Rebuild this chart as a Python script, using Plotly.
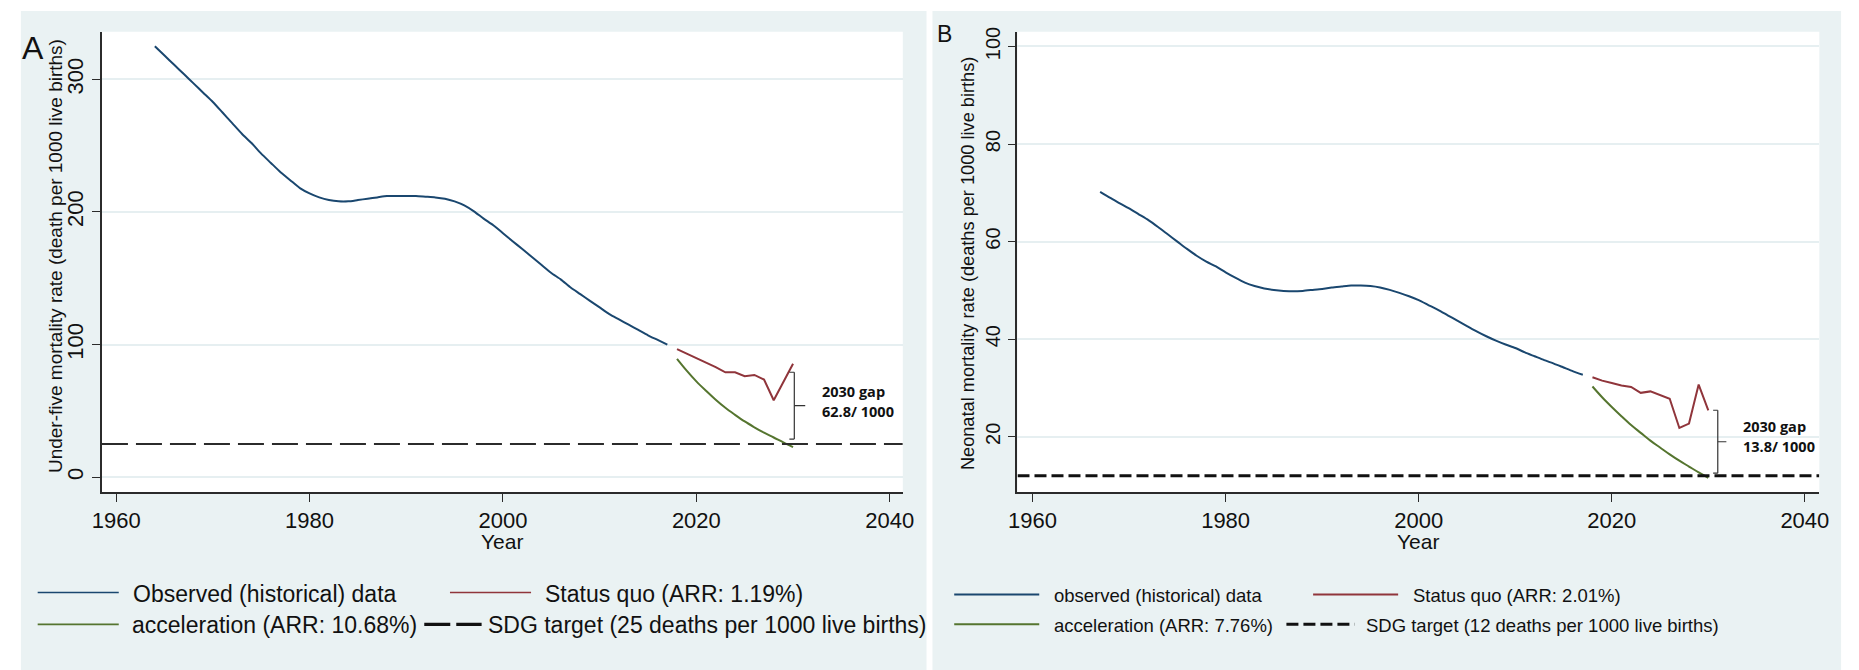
import plotly.graph_objects as go

W, H = 1859, 670

# ---------------- Panel A: under-five mortality ----------------
years_obs_a = list(range(1964, 2018))
u5mr_observed = [325, 318, 311, 304, 297, 290, 283, 275, 267, 259,
                 252, 244, 237, 230, 224, 218, 214, 211, 209, 208,
                 208, 209, 210, 211, 212, 212, 212, 212, 211.5, 211,
                 210, 208, 205, 200.5, 195, 190, 184, 178, 172, 166,
                 160, 154, 149, 143, 138, 133, 128, 123, 119, 115,
                 111, 107, 103.5, 100]
years_proj = list(range(2018, 2031))
u5mr_status_quo = [96.6, 93.2, 89.7, 86.6, 83.0, 79.1, 79.1, 76.1, 77.1, 73.6, 58.0, 71.7, 85.5]
u5mr_acceleration = [89.2, 80.3, 72.2, 65.1, 58.4, 52.3, 47.0, 42.0, 37.6, 33.5, 29.9, 26.2, 22.7]
u5mr_target = 25

# ---------------- Panel B: neonatal mortality ----------------
years_obs_b = list(range(1967, 2018))
nmr_observed = [70.2, 69.0, 67.9, 66.8, 65.6, 64.4, 63.0, 61.5, 60.0, 58.5,
                57.1, 55.9, 54.9, 53.7, 52.6, 51.6, 50.9, 50.4, 50.1, 49.9,
                49.8, 49.9, 50.1, 50.3, 50.6, 50.8, 51.0, 51.0, 50.9, 50.6,
                50.1, 49.5, 48.8, 48.0, 47.0, 46.0, 44.9, 43.8, 42.7, 41.6,
                40.6, 39.7, 38.9, 38.2, 37.3, 36.5, 35.7, 35.0, 34.2, 33.4,
                32.7]
nmr_status_quo = [32.2, 31.5, 31.0, 30.5, 30.2, 29.0, 29.3, 28.5, 27.8, 21.8, 22.7, 30.7, 25.4]
nmr_acceleration = [30.3, 28.1, 26.1, 24.2, 22.4, 20.8, 19.2, 17.8, 16.4, 15.1, 13.9, 12.7, 11.6]
nmr_target = 12

# axis settings
x_range_a = [1958.53, 2041.35]
x_range_b = [1958.44, 2041.5]
y_range_a = [-11.46, 335.9]
y_range_b = [8.61, 103.0]
x_ticks = [1960, 1980, 2000, 2020, 2040]

BLUE = "#1a476f"
RED = "#90353b"
GREEN = "#55752f"
PANEL_BG = "#eaf2f3"
GRID = "#e6eff1"
AXIS = "#2b2b2b"
FONT = "Liberation Sans, Arial, sans-serif"
GAP_FONT = "Open Sans, Liberation Sans, sans-serif"


def px_x(p):
    return p / W


def px_y(p):
    return 1 - p / H


fig = go.Figure()

# Panel A traces
fig.add_trace(go.Scatter(x=years_obs_a, y=u5mr_observed, mode="lines", name="Observed (historical) data",
                         line=dict(color=BLUE, width=2, shape="spline", smoothing=0.6),
                         xaxis="x", yaxis="y", showlegend=False))
fig.add_trace(go.Scatter(x=years_proj, y=u5mr_status_quo, mode="lines", name="Status quo (ARR: 1.19%)",
                         line=dict(color=RED, width=2), xaxis="x", yaxis="y", showlegend=False))
fig.add_trace(go.Scatter(x=years_proj, y=u5mr_acceleration, mode="lines", name="acceleration (ARR: 10.68%)",
                         line=dict(color=GREEN, width=2, shape="spline"), xaxis="x", yaxis="y", showlegend=False))
fig.add_trace(go.Scatter(x=x_range_a, y=[u5mr_target, u5mr_target], mode="lines",
                         name="SDG target (25 deaths per 1000 live births)",
                         line=dict(color=AXIS, width=2.2, dash="26px,8px"), xaxis="x", yaxis="y",
                         showlegend=False))

# Panel B traces
fig.add_trace(go.Scatter(x=years_obs_b, y=nmr_observed, mode="lines", name="observed (historical) data",
                         line=dict(color=BLUE, width=2, shape="spline", smoothing=0.6),
                         xaxis="x2", yaxis="y2", showlegend=False))
fig.add_trace(go.Scatter(x=years_proj, y=nmr_status_quo, mode="lines", name="Status quo (ARR: 2.01%)",
                         line=dict(color=RED, width=2), xaxis="x2", yaxis="y2", showlegend=False))
fig.add_trace(go.Scatter(x=years_proj, y=nmr_acceleration, mode="lines", name="acceleration (ARR: 7.76%)",
                         line=dict(color=GREEN, width=2, shape="spline"), xaxis="x2", yaxis="y2", showlegend=False))
fig.add_trace(go.Scatter(x=x_range_b, y=[nmr_target, nmr_target], mode="lines",
                         name="SDG target (12 deaths per 1000 live births)",
                         line=dict(color="#111111", width=3, dash="12px,5px"), xaxis="x2", yaxis="y2",
                         showlegend=False))

shapes = []
annotations = []

# panel backgrounds
for x0, x1 in [(11, 927), (933, 1852)]:
    shapes.append(dict(type="rect", xref="paper", yref="paper", x0=px_x(x0), x1=px_x(x1),
                       y0=0, y1=px_y(6), fillcolor=PANEL_BG, line=dict(width=0), layer="below"))
# plot regions (white)
for x0, x1 in [(93, 903), (1019, 1830)]:
    shapes.append(dict(type="rect", xref="paper", yref="paper", x0=px_x(x0), x1=px_x(x1),
                       y0=px_y(491), y1=px_y(27), fillcolor="white", line=dict(width=0), layer="below"))

# 2030 gap brackets
def bracket(xref, yref, x_mid, x_left, x_right, y_top, y_bot):
    y_c = (y_top + y_bot) / 2
    style = dict(color="#333333", width=1.2)
    return [
        dict(type="line", xref=xref, yref=yref, x0=x_mid, x1=x_mid, y0=y_bot, y1=y_top, line=style),
        dict(type="line", xref=xref, yref=yref, x0=x_left, x1=x_mid, y0=y_top, y1=y_top, line=style),
        dict(type="line", xref=xref, yref=yref, x0=x_left, x1=x_mid, y0=y_bot, y1=y_bot, line=style),
        dict(type="line", xref=xref, yref=yref, x0=x_mid, x1=x_right, y0=y_c, y1=y_c, line=style),
    ]

shapes += bracket("x", "y", 2030.13, 2029.62, 2031.26, 79.1, 28.75)
shapes += bracket("x2", "y2", 2030.98, 2030.5, 2031.87, 25.43, 12.53)

# gap labels
for txt, x, y in [("2030 gap", 820, 389), ("62.8/ 1000", 820, 410),
                  ("2030 gap", 1751.5, 425), ("13.8/ 1000", 1751.5, 445)]:
    annotations.append(dict(text="<b>" + txt + "</b>", xref="paper", yref="paper", x=px_x(x), y=px_y(y),
                            xanchor="left", yanchor="middle", showarrow=False, borderpad=0,
                            font=dict(family=GAP_FONT, size=14.5, color="#111111")))

# panel letters
annotations.append(dict(text="A", xref="paper", yref="paper", x=px_x(11), y=px_y(43.5), xanchor="left",
                        yanchor="middle", showarrow=False, borderpad=0,
                        font=dict(family=FONT, size=32, color="#111111")))
annotations.append(dict(text="B", xref="paper", yref="paper", x=px_x(937), y=px_y(29), xanchor="left",
                        yanchor="middle", showarrow=False, borderpad=0,
                        font=dict(family=FONT, size=23, color="#111111")))

# axis titles
annotations.append(dict(text="Under-five mortality rate (death per 1000 live births)", xref="paper",
                        yref="paper", x=px_x(46), y=px_y(252.5), xanchor="center", yanchor="middle",
                        textangle=-90, showarrow=False, font=dict(family=FONT, size=19, color="#111111")))
annotations.append(dict(text="Neonatal mortality rate (deaths per 1000 live births)", xref="paper",
                        yref="paper", x=px_x(969), y=px_y(261), xanchor="center", yanchor="middle",
                        textangle=-90, showarrow=False, font=dict(family=FONT, size=18.2, color="#111111")))
for xc in [498, 1424.5]:
    annotations.append(dict(text="Year", xref="paper", yref="paper", x=px_x(xc), y=px_y(541),
                            xanchor="center", yanchor="middle", showarrow=False,
                            font=dict(family=FONT, size=21, color="#111111")))

# legends
def legend_entry(x0, x1, y, color, width, dash, text, text_x, size):
    shapes.append(dict(type="line", xref="paper", yref="paper", x0=px_x(x0), x1=px_x(x1),
                       y0=px_y(y), y1=px_y(y), line=dict(color=color, width=width, dash=dash)))
    annotations.append(dict(text=text, xref="paper", yref="paper", x=px_x(text_x), y=px_y(y + 1),
                            xanchor="left", yanchor="middle", showarrow=False, borderpad=0,
                            font=dict(family=FONT, size=size, color="#111111")))

legend_entry(28, 110, 592, BLUE, 1.5, "solid", "Observed (historical) data", 123, 23)
legend_entry(445, 527, 592, RED, 1.5, "solid", "Status quo (ARR: 1.19%)", 540, 23)
legend_entry(28, 110, 624, GREEN, 1.8, "solid", "acceleration (ARR: 10.68%)", 122, 23)
legend_entry(419, 477, 624, "#111111", 3.2, "26px,6px", "SDG target (25 deaths per 1000 live births)", 482, 23)

legend_entry(955, 1041, 594, BLUE, 2, "solid", "observed (historical) data", 1055, 18.5)
legend_entry(1318, 1404, 594, RED, 2, "solid", "Status quo (ARR: 2.01%)", 1418, 18.5)
legend_entry(955, 1041, 624, GREEN, 2, "solid", "acceleration (ARR: 7.76%)", 1055, 18.5)
legend_entry(1291, 1360, 624, "#111111", 3, "12px,5px", "SDG target (12 deaths per 1000 live births)", 1370, 18.5)

axis_common = dict(showline=True, linecolor=AXIS, linewidth=1.5, ticks="outside", ticklen=8,
                   tickcolor=AXIS, tickwidth=1.3, zeroline=False, mirror=False)

fig.update_layout(
    width=W, height=H, autosize=False,
    margin=dict(l=0, r=0, t=0, b=0),
    paper_bgcolor="white", plot_bgcolor="rgba(0,0,0,0)",
    showlegend=False,
    shapes=shapes, annotations=annotations,
    xaxis=dict(domain=[px_x(93), px_x(903)], range=x_range_a, tickvals=x_ticks, showgrid=False,
               anchor="y", tickfont=dict(family=FONT, size=22, color="#111111"), **axis_common),
    yaxis=dict(domain=[px_y(491), px_y(27)], range=y_range_a, tick0=0, dtick=100, showgrid=True,
               gridcolor=GRID, gridwidth=2, anchor="x", tickangle=-90,
               tickfont=dict(family=FONT, size=22, color="#111111"), **axis_common),
    xaxis2=dict(domain=[px_x(1019), px_x(1830)], range=x_range_b, tickvals=x_ticks, showgrid=False,
                anchor="y2", tickfont=dict(family=FONT, size=22, color="#111111"), **axis_common),
    yaxis2=dict(domain=[px_y(491), px_y(27)], range=y_range_b, tick0=0, dtick=20, showgrid=True,
                gridcolor=GRID, gridwidth=2, anchor="x2", tickangle=-90,
                tickfont=dict(family=FONT, size=20, color="#111111"), **axis_common),
)

fig.write_html("out.html")
